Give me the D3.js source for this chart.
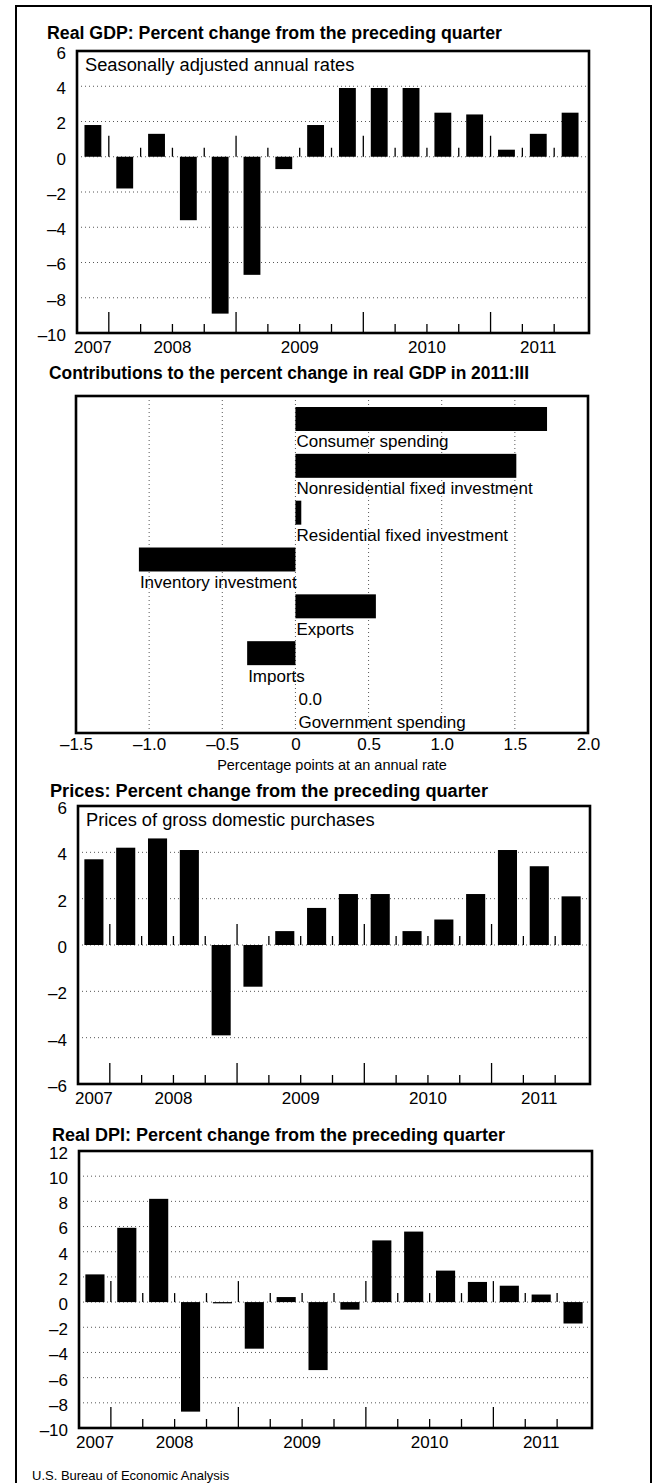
<!DOCTYPE html>
<html>
<head>
<meta charset="utf-8">
<script src="https://cdn.jsdelivr.net/npm/d3@7"></script>
<style>
body{margin:0;background:#fff;}
svg{display:block;font-family:"Liberation Sans",Arial,Helvetica,sans-serif;}
</style>
</head>
<body>
<svg id="chart" width="655" height="1483"></svg>
<script>
// quarters shown in the three bar panels
var quarters = ["2007:IV","2008:I","2008:II","2008:III","2008:IV","2009:I","2009:II","2009:III","2009:IV",
	"2010:I","2010:II","2010:III","2010:IV","2011:I","2011:II","2011:III"];
var years = ["2007","2008","2009","2010","2011"];

var gdpValues = [1.8,-1.8,1.3,-3.6,-8.9,-6.7,-0.7,1.8,3.9,3.9,3.9,2.5,2.4,0.4,1.3,2.5];
var gdpTicks = [6,4,2,0,-2,-4,-6,-8,-10];

var priceValues = [3.7,4.2,4.6,4.1,-3.9,-1.8,0.6,1.6,2.2,2.2,0.6,1.1,2.2,4.1,3.4,2.1];
var priceTicks = [6,4,2,0,-2,-4,-6];

var dpiValues = [2.2,5.9,8.2,-8.7,-0.1,-3.7,0.4,-5.4,-0.6,4.9,5.6,2.5,1.6,1.3,0.6,-1.7];
var dpiTicks = [12,10,8,6,4,2,0,-2,-4,-6,-8,-10];

var contribCategories = ["Consumer spending","Nonresidential fixed investment","Residential fixed investment",
	"Inventory investment","Exports","Imports","Government spending"];
var contribValues = [1.72,1.51,0.04,-1.07,0.55,-0.33,0.0];
var contribTicks = [-1.5,-1.0,-0.5,0,0.5,1.0,1.5,2.0];

var svg = d3.select("#chart");

function minus(s){
	return String(s).replace("-", "\u2013").replace("\u2212", "\u2013");
}

// outer frame, open at the bottom of the page
svg.append("path")
	.attr("d", "M16,1495V6H651V1495")
	.attr("fill", "none")
	.attr("stroke", "#000")
	.attr("stroke-width", 2);

function title(txt, x, y, len){
	svg.append("text")
		.attr("x", x)
		.attr("y", y)
		.attr("font-size", 17.5)
		.attr("font-weight", "bold")
		.attr("textLength", len)
		.attr("lengthAdjust", "spacingAndGlyphs")
		.text(txt);
}

function quarterPanel(opt){
	var g = svg.append("g");
	var x = d3.scaleBand()
		.domain(quarters)
		.range([opt.left, opt.right - 3])
		.paddingInner(opt.pad)
		.paddingOuter(opt.pad / 2);
	var y = d3.scaleLinear()
		.domain([opt.ticks[opt.ticks.length - 1], opt.ticks[0]])
		.range([opt.bottom, opt.top]);
	var step = x.step();
	var off = (step - x.bandwidth()) / 2;

	title(opt.title, opt.titleX, opt.titleY, opt.titleLen);

	// dotted grid
	g.selectAll("line.grid")
		.data(opt.ticks.slice(1, -1))
		.enter()
		.append("line")
		.attr("x1", opt.left)
		.attr("x2", opt.right)
		.attr("y1", function(d){ return y(d); })
		.attr("y2", function(d){ return y(d); })
		.attr("stroke", "#444")
		.attr("stroke-width", 0.9)
		.attr("stroke-dasharray", "1,3");

	if(opt.subtitle){
		g.append("text")
			.attr("x", opt.left + 8)
			.attr("y", opt.top + 20)
			.attr("font-size", 18.3)
			.text(opt.subtitle);
	}

	g.selectAll("rect.bar")
		.data(opt.values)
		.enter()
		.append("rect")
		.attr("x", function(d, i){ return x(quarters[i]); })
		.attr("width", x.bandwidth())
		.attr("y", function(d){ return y(Math.max(0, d)); })
		.attr("height", function(d){ return Math.abs(y(d) - y(0)); })
		.attr("fill", "#000");

	// quarter marks on the zero line and on the bottom edge
	var bounds = quarters.slice(1).map(function(q){
		return {x: x(q) - off, year: /:I$/.test(q)};
	});
	[y(0), opt.bottom].forEach(function(base){
		g.selectAll(null)
			.data(bounds)
			.enter()
			.append("line")
			.attr("x1", function(d){ return d.x; })
			.attr("x2", function(d){ return d.x; })
			.attr("y1", base)
			.attr("y2", function(d){ return base - (d.year ? 21 : 9); })
			.attr("stroke", "#000")
			.attr("stroke-width", 1.3);
	});

	// y labels
	var ax = g.append("g")
		.attr("transform", "translate(" + (opt.left - 11) + ",2)")
		.call(d3.axisLeft(y).tickValues(opt.ticks).tickSize(0).tickPadding(0).tickFormat(minus));
	ax.select(".domain").remove();
	ax.attr("font-family", null);
	ax.selectAll("text").attr("font-size", 17).attr("fill", "#000");

	// year labels centred on each year's quarters
	g.selectAll("text.year")
		.data(years)
		.enter()
		.append("text")
		.attr("x", function(yr){
			var qs = quarters.filter(function(q){ return q.indexOf(yr) === 0; });
			var a = x(qs[0]) - off, b = x(qs[qs.length - 1]) - off + step;
			return (a + b) / 2;
		})
		.attr("y", opt.bottom + 20)
		.attr("text-anchor", "middle")
		.attr("font-size", 17)
		.text(function(d){ return d; });

	g.append("rect")
		.attr("x", opt.left)
		.attr("y", opt.top)
		.attr("width", opt.right - opt.left)
		.attr("height", opt.bottom - opt.top)
		.attr("fill", "none")
		.attr("stroke", "#000")
		.attr("stroke-width", 2.6);
}

quarterPanel({
	title: "Real GDP: Percent change from the preceding quarter", titleX: 47, titleY: 39, titleLen: 455,
	subtitle: "Seasonally adjusted annual rates",
	values: gdpValues, ticks: gdpTicks,
	left: 77, right: 589, top: 51, bottom: 333, pad: 0.47
});

quarterPanel({
	title: "Prices: Percent change from the preceding quarter", titleX: 50, titleY: 797, titleLen: 438,
	subtitle: "Prices of gross domestic purchases",
	values: priceValues, ticks: priceTicks,
	left: 78, right: 590, top: 806, bottom: 1084, pad: 0.4
});

quarterPanel({
	title: "Real DPI: Percent change from the preceding quarter", titleX: 52, titleY: 1141, titleLen: 453,
	values: dpiValues, ticks: dpiTicks,
	left: 79, right: 592, top: 1151, bottom: 1428, pad: 0.4
});

// contributions panel
(function(){
	var left = 76, right = 588, top = 396, bottom = 733;
	var g = svg.append("g");
	var x = d3.scaleLinear().domain([contribTicks[0], contribTicks[contribTicks.length - 1]]).range([left, right]);
	var y = d3.scaleBand().domain(contribCategories).range([top, 723]).paddingInner(0.488).paddingOuter(0.235);

	title("Contributions to the percent change in real GDP in 2011:III", 49, 379, 480);

	g.selectAll("line.grid")
		.data(contribTicks.slice(1, -1))
		.enter()
		.append("line")
		.attr("x1", function(d){ return x(d); })
		.attr("x2", function(d){ return x(d); })
		.attr("y1", top)
		.attr("y2", bottom)
		.attr("stroke", "#444")
		.attr("stroke-width", 0.9)
		.attr("stroke-dasharray", "1,3");

	var rows = contribCategories.map(function(c, i){ return {name: c, value: contribValues[i]}; });

	g.selectAll("rect.bar")
		.data(rows.filter(function(d){ return d.value !== 0; }))
		.enter()
		.append("rect")
		.attr("x", function(d){ return x(Math.min(0, d.value)); })
		.attr("width", function(d){ return Math.abs(x(d.value) - x(0)); })
		.attr("y", function(d){ return y(d.name); })
		.attr("height", y.bandwidth())
		.attr("fill", "#000");

	g.selectAll("text.zero")
		.data(rows.filter(function(d){ return d.value === 0; }))
		.enter()
		.append("text")
		.attr("x", x(0) + 3)
		.attr("y", function(d){ return y(d.name) + 17; })
		.attr("font-size", 17)
		.text(function(d){ return d3.format(".1f")(d.value); });

	g.selectAll("text.label")
		.data(rows)
		.enter()
		.append("text")
		.attr("x", function(d){ return x(Math.min(0, d.value)) + (d.value === 0 ? 3 : 1); })
		.attr("y", function(d){ return y(d.name) + y.bandwidth() + (d.value === 0 ? 16 : 16.5); })
		.attr("font-size", 17)
		.text(function(d){ return d.name; });

	var ax = g.append("g")
		.attr("transform", "translate(0," + bottom + ")")
		.call(d3.axisBottom(x).tickValues(contribTicks).tickSize(0).tickPadding(5)
			.tickFormat(function(d){ return d === 0 ? "0" : minus(d3.format(".1f")(d)); }));
	ax.select(".domain").remove();
	ax.attr("font-family", null);
	ax.selectAll("text").attr("font-size", 17).attr("fill", "#000");

	svg.append("text")
		.attr("x", x(0.25))
		.attr("y", 770)
		.attr("text-anchor", "middle")
		.attr("font-size", 14.5)
		.text("Percentage points at an annual rate");

	g.append("rect")
		.attr("x", left)
		.attr("y", top)
		.attr("width", right - left)
		.attr("height", bottom - top)
		.attr("fill", "none")
		.attr("stroke", "#000")
		.attr("stroke-width", 2.6);
})();

svg.append("text")
	.attr("x", 32)
	.attr("y", 1480)
	.attr("font-size", 13)
	.text("U.S. Bureau of Economic Analysis");
</script>
</body>
</html>
